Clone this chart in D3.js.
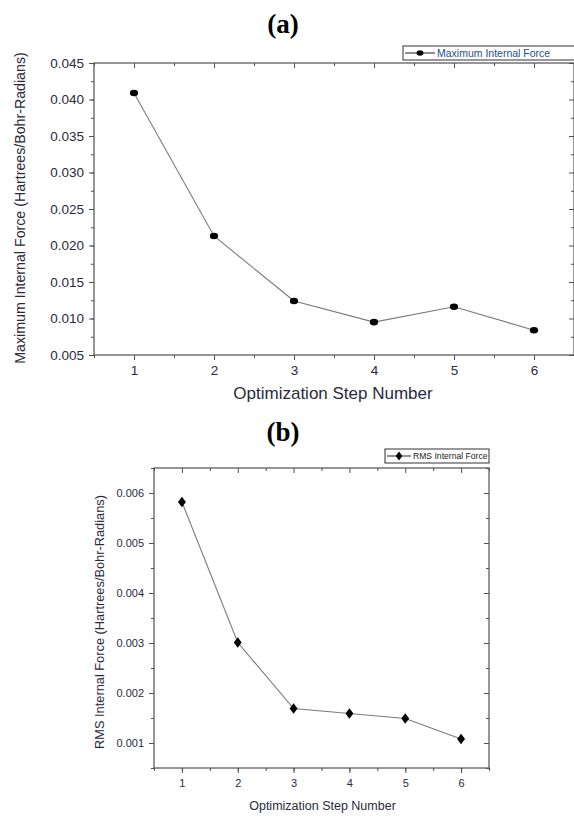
<!DOCTYPE html>
<html>
<head>
<meta charset="utf-8">
<script src="https://cdn.jsdelivr.net/npm/d3@7"></script>
<style>
  html, body { margin: 0; padding: 0; background: #fff; }
  svg { display: block; }
</style>
</head>
<body>
<svg id="chart" width="574" height="816"></svg>
<script>
// Geometry optimisation convergence: step numbers and force values
const steps = [1, 2, 3, 4, 5, 6];
const maxForce = [0.0409, 0.0213, 0.0124, 0.0095, 0.0116, 0.0084];
const rmsForce = [0.00582, 0.00301, 0.00169, 0.00159, 0.00149, 0.00108];
const maxTicks = [0.005, 0.010, 0.015, 0.020, 0.025, 0.030, 0.035, 0.040, 0.045];
const rmsTicks = [0.001, 0.002, 0.003, 0.004, 0.005, 0.006];

const svg = d3.select("#chart");
const sans = "'Liberation Sans', Arial, sans-serif";
const axisColor = "#505050";
const textColor = "#2a2a3a";

function drawPanel(cfg) {
  const x = d3.scaleLinear().domain([0.5, 6.5]).range([cfg.left, cfg.right]);
  const y = d3.scaleLinear().domain(cfg.yDomain).range([cfg.bottom, cfg.top]);
  const g = svg.append("g");

  const xMinor = d3.range(0.5, 6.51, 0.5);
  const yMinor = d3.range(cfg.yDomain[0], cfg.yDomain[1] + 1e-9, cfg.yStep / 2);

  // bottom axis (outward ticks)
  g.append("g")
    .attr("transform", `translate(0,${cfg.bottom})`)
    .call(d3.axisBottom(x).tickValues(xMinor).tickSize(cfg.minorLen).tickFormat(""))
    .call(a => a.select(".domain").remove());
  g.append("g")
    .attr("transform", `translate(0,${cfg.bottom})`)
    .call(d3.axisBottom(x).tickValues(steps).tickSize(cfg.majorLen).tickPadding(cfg.xPad).tickFormat(d3.format("d")))
    .call(a => a.select(".domain").remove())
    .call(a => a.selectAll("text").attr("font-size", cfg.tickFont).attr("font-family", sans).attr("fill", textColor));

  // left axis (outward ticks)
  g.append("g")
    .attr("transform", `translate(${cfg.left},0)`)
    .call(d3.axisLeft(y).tickValues(yMinor).tickSize(cfg.minorLen).tickFormat(""))
    .call(a => a.select(".domain").remove());
  g.append("g")
    .attr("transform", `translate(${cfg.left},0)`)
    .call(d3.axisLeft(y).tickValues(cfg.yTicks).tickSize(cfg.majorLen).tickPadding(cfg.yPad).tickFormat(d3.format(cfg.yFmt)))
    .call(a => a.select(".domain").remove())
    .call(a => a.selectAll("text").attr("font-size", cfg.tickFont).attr("font-family", sans).attr("fill", textColor));

  // top and right mirror axes (inward ticks)
  g.append("g")
    .attr("transform", `translate(0,${cfg.top})`)
    .call(d3.axisBottom(x).tickValues(xMinor).tickSizeInner(cfg.minorLen).tickSizeOuter(0).tickFormat(""))
    .call(a => a.select(".domain").remove())
    .call(a => a.selectAll(".tick").filter(d => steps.includes(d)).select("line").attr("y2", cfg.majorLen));
  g.append("g")
    .attr("transform", `translate(${cfg.right},0)`)
    .call(d3.axisRight(y).tickValues(yMinor).tickSizeInner(-cfg.minorLen).tickSizeOuter(0).tickFormat(""))
    .call(a => a.select(".domain").remove())
    .call(a => a.selectAll(".tick").filter(d => cfg.yTicks.some(t => Math.abs(t - d) < 1e-9)).select("line").attr("x2", -cfg.majorLen));

  g.selectAll(".tick line").attr("stroke", axisColor).attr("stroke-width", 1);

  // frame
  g.append("rect")
    .attr("x", cfg.left).attr("y", cfg.top)
    .attr("width", cfg.right - cfg.left).attr("height", cfg.bottom - cfg.top)
    .attr("fill", "none").attr("stroke", axisColor).attr("stroke-width", 1.2);

  // series line
  const pts = steps.map((s, i) => [s, cfg.values[i]]);
  g.append("path")
    .datum(pts)
    .attr("d", d3.line().x(d => x(d[0])).y(d => y(d[1])))
    .attr("fill", "none").attr("stroke", "#7a7a7a").attr("stroke-width", 1.1);

  // markers
  const sym = d3.symbol().type(cfg.symbol).size(cfg.symbolSize);
  g.selectAll("path.mark")
    .data(pts)
    .join("path")
    .attr("class", "mark")
    .attr("d", sym)
    .attr("transform", d => `translate(${x(d[0])},${y(d[1])})${cfg.symbolScale}`)
    .attr("fill", "#000");

  // axis titles
  g.append("text")
    .attr("x", (cfg.left + cfg.right) / 2 + cfg.xLabelDx)
    .attr("y", cfg.xLabelY)
    .attr("text-anchor", "middle")
    .attr("font-family", sans).attr("font-size", cfg.labelFont).attr("fill", textColor)
    .text("Optimization Step Number");
  g.append("text")
    .attr("transform", `translate(${cfg.yLabelX},${cfg.yLabelCy}) rotate(-90)`)
    .attr("text-anchor", "middle")
    .attr("font-family", sans).attr("font-size", cfg.yLabelFont).attr("fill", textColor)
    .text(cfg.yLabel);

  // panel tag
  g.append("text")
    .attr("x", 283).attr("y", cfg.tagY)
    .attr("text-anchor", "middle")
    .attr("font-family", "'Liberation Serif', 'Times New Roman', serif")
    .attr("font-weight", "bold").attr("font-size", 27).attr("fill", "#000")
    .text(cfg.tag);

  // legend
  const L = cfg.legend;
  const lg = g.append("g");
  lg.append("rect")
    .attr("x", L.x).attr("y", L.y).attr("width", L.w).attr("height", L.h)
    .attr("fill", "#fff").attr("stroke", "#333").attr("stroke-width", 1);
  const cy = L.y + L.h / 2;
  lg.append("line")
    .attr("x1", L.x + 2).attr("x2", L.x + L.lineLen)
    .attr("y1", cy).attr("y2", cy)
    .attr("stroke", "#222").attr("stroke-width", 1);
  lg.append("path")
    .attr("d", d3.symbol().type(cfg.symbol).size(cfg.symbolSize * 0.7))
    .attr("transform", `translate(${L.x + 2 + (L.lineLen - 2) / 2},${cy})${cfg.symbolScale}`)
    .attr("fill", "#000");
  lg.append("text")
    .attr("x", L.x + L.lineLen + 2).attr("y", cy)
    .attr("dy", "0.35em")
    .attr("font-family", sans).attr("font-size", L.font).attr("fill", L.color)
    .text(cfg.seriesName);
}

drawPanel({
  tag: "(a)", tagY: 33,
  left: 94, right: 574, top: 63, bottom: 355,
  yDomain: [0.005, 0.045], yStep: 0.005, yTicks: maxTicks, yFmt: ".3f",
  values: maxForce,
  majorLen: 5, minorLen: 3, xPad: 5, yPad: 5,
  tickFont: 13.5, labelFont: 17, yLabelFont: 14.2,
  xLabelDx: -1, xLabelY: 399,
  yLabelX: 25, yLabelCy: 208,
  yLabel: "Maximum Internal Force (Hartrees/Bohr-Radians)",
  symbol: d3.symbolCircle, symbolSize: 34, symbolScale: " scale(1.25,1)",
  seriesName: "Maximum Internal Force",
  legend: { x: 403, y: 46, w: 175, h: 14, lineLen: 32, font: 10.5, color: "#1f4f8f" }
});

drawPanel({
  tag: "(b)", tagY: 441,
  left: 154, right: 489, top: 468, bottom: 768,
  yDomain: [0.0005, 0.0065], yStep: 0.001, yTicks: rmsTicks, yFmt: ".3f",
  values: rmsForce,
  majorLen: 5, minorLen: 3, xPad: 6, yPad: 5,
  tickFont: 11, labelFont: 12.5, yLabelFont: 12.8,
  xLabelDx: 1, xLabelY: 810,
  yLabelX: 104, yLabelCy: 622,
  yLabel: "RMS Internal Force (Hartrees/Bohr-Radians)",
  symbol: d3.symbolDiamond, symbolSize: 32, symbolScale: " scale(1.3,1)",
  seriesName: "RMS Internal Force",
  legend: { x: 385, y: 449, w: 104, h: 14, lineLen: 26, font: 8.6, color: "#222" }
});
</script>
</body>
</html>
